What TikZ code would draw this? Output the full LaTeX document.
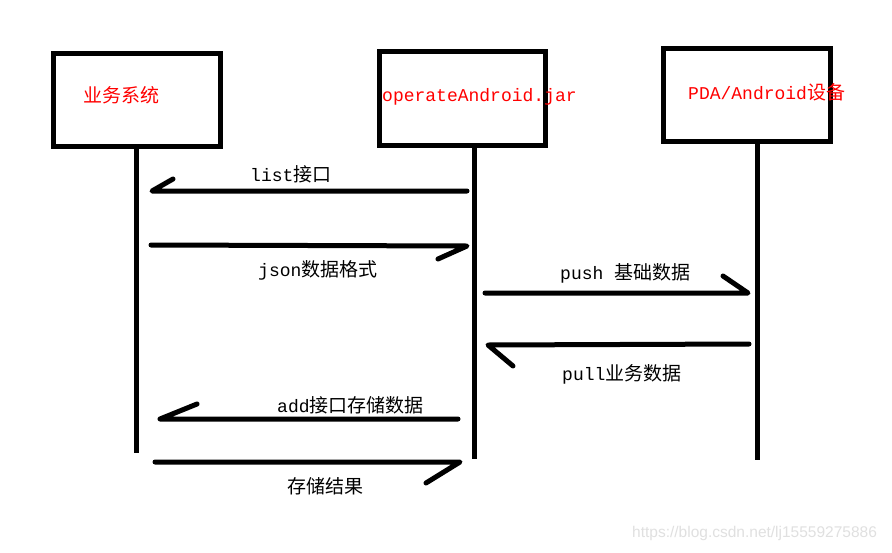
\documentclass[tikz,border=0pt]{standalone}
\usepackage{fontspec}
\setmainfont{Liberation Mono}
\newfontfamily\cjk{Noto Sans CJK SC}
\newfontfamily\wmfont{Liberation Sans}
\begin{document}
\begin{tikzpicture}[x=1pt,y=-1pt,
  actorbox/.style={draw=black,line width=5pt,minimum width=167pt,minimum height=93pt,inner sep=0pt},
  life/.style={line width=5pt},
  msg/.style={line width=5pt,line cap=round,line join=round},
  ttl/.style={text=red,font=\fontsize{18}{20}\selectfont,inner sep=0pt,anchor=west},
  lbl/.style={text=black,font=\fontsize{18}{20}\selectfont,inner sep=0pt,anchor=west}]
\useasboundingbox (0,0) rectangle (892,552);
\fill[white] (0,0) rectangle (892,552);
% actor boxes
\node[actorbox] (b1) at (136.5,99.5) {};
\node[actorbox,minimum width=166pt,minimum height=94pt] (b2) at (462,98) {};
\node[actorbox] (b3) at (746.5,94.5) {};
\node[ttl] (t1) at (83,95) {\cjk\fontsize{19}{20}\selectfont 业务系统};
\node[ttl] (t2) at (382,97) {operateAndroid.jar};
\node[ttl] (t3) at (688,92) {PDA/Android{\cjk\fontsize{19}{20}\selectfont 设备}};
% lifelines
\coordinate (l1) at (136,453);
\coordinate (l2) at (474,459);
\coordinate (l3) at (757,460);
\draw[life] (b1.south -| l1) -- (l1);
\draw[life] (b2.south -| l2) -- (l2);
\draw[life] (b3.south -| l3) -- (l3);
% message 1: list
\coordinate (m1s) at (467,191);
\coordinate (m1e) at (152,191);
\draw[msg] (m1s) -- (m1e) -- (173,179);
\node[lbl] (n1) at (250,174) {list{\cjk\fontsize{19}{20}\selectfont 接口}};
% message 2: json
\coordinate (m2s) at (151,245);
\coordinate (m2e) at (467,246);
\draw[msg] (m2s) -- (m2e) -- (438,259);
\node[lbl] (n2) at (258,270) {json{\cjk\fontsize{19}{20}\selectfont 数据格式}};
% message 3: push
\coordinate (m3s) at (485,293);
\coordinate (m3e) at (748,293);
\draw[msg] (m3s) -- (m3e) -- (723,276);
\node[lbl] (n3) at (560,273) {push {\cjk\fontsize{19}{20}\selectfont 基础数据}};
% message 4: pull
\coordinate (m4s) at (749,344);
\coordinate (m4e) at (488,345);
\draw[msg] (m4s) -- (m4e) -- (513,366);
\node[lbl] (n4) at (562,374) {pull{\cjk\fontsize{19}{20}\selectfont 业务数据}};
% message 5: add
\coordinate (m5s) at (458,419);
\coordinate (m5e) at (160,419);
\draw[msg] (m5s) -- (m5e) -- (197,404);
\node[lbl] (n5) at (277,405) {add{\cjk\fontsize{19}{20}\selectfont 接口存储数据}};
% message 6: result
\coordinate (m6s) at (155,462);
\coordinate (m6e) at (460,462);
\draw[msg] (m6s) -- (m6e) -- (426,483);
\node[lbl] (n6) at (287,486) {\cjk\fontsize{19}{20}\selectfont 存储结果};
% watermark
\node[text=black!12,font=\wmfont\fontsize{15.5}{17}\selectfont,inner sep=0pt,anchor=west] (wm) at (632,533) {https://blog.csdn.net/lj15559275886};
\end{tikzpicture}
\end{document}
